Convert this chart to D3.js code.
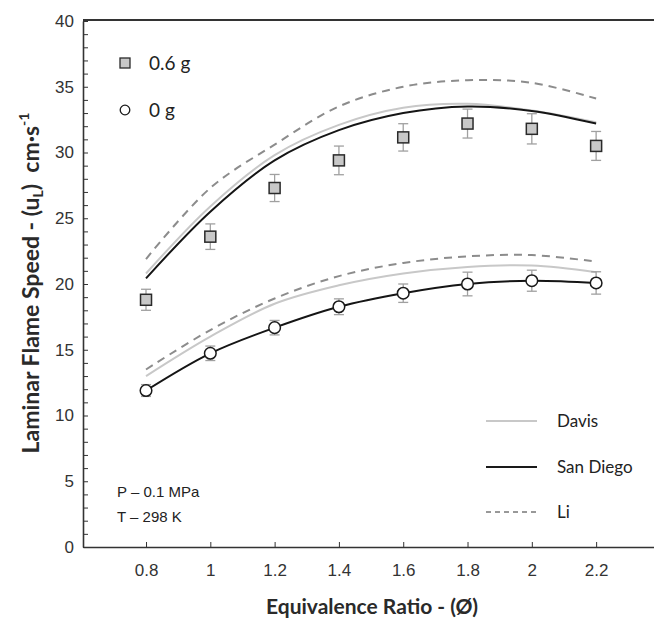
<!DOCTYPE html>
<html>
<head>
<meta charset="utf-8">
<script src="https://cdn.jsdelivr.net/npm/d3@7"></script>
<style>
  body { margin: 0; background: #fff; }
</style>
</head>
<body>
<script>
// equivalence ratio values
var phi = [0.8, 1.0, 1.2, 1.4, 1.6, 1.8, 2.0, 2.2];

// measured flame speed (cm/s) and error
var g06 = [18.8, 23.6, 27.3, 29.4, 31.15, 32.2, 31.8, 30.5];
var g06err = [0.8, 0.97, 1.03, 1.09, 1.04, 1.1, 1.15, 1.1];
var g0 = [11.9, 14.73, 16.68, 18.27, 19.3, 20.0, 20.25, 20.08];
var g0err = [0.45, 0.55, 0.55, 0.6, 0.7, 0.9, 0.8, 0.85];

// model curves, upper (0.6 g) and lower (0 g)
var davisHi = [20.8, 25.9, 29.8, 32.1, 33.4, 33.7, 33.2, 32.3];
var sdHi = [20.43, 25.5, 29.4, 31.7, 33.0, 33.5, 33.16, 32.2];
var liHi = [21.9, 27.3, 30.6, 33.5, 35.0, 35.5, 35.3, 34.1];
var davisLo = [13.0, 16.0, 18.5, 19.9, 20.8, 21.3, 21.4, 20.9];
var sdLo = [11.9, 14.73, 16.68, 18.27, 19.3, 20.0, 20.25, 20.08];
var liLo = [13.5, 16.5, 18.9, 20.6, 21.6, 22.1, 22.2, 21.7];

var xTicks = [0.8, 1.0, 1.2, 1.4, 1.6, 1.8, 2.0, 2.2];
var seriesNames = ['Davis', 'San Diego', 'Li'];
var massNames = ['0.6 g', '0 g'];

var W = 654, H = 630;
var svg = d3.select('body').append('svg')
    .attr('width', W)
    .attr('height', H);

var x = d3.scaleLinear().domain([0.604, 2.38]).range([83, 654]);
var y = d3.scaleLinear().domain([0, 40]).range([547, 21]);

var tickFont = '"Liberation Sans", Arial, sans-serif';
var labelFont = 'Lato, "Open Sans", sans-serif';

// y axis, ticks inward, label every 5
var yAxis = d3.axisLeft(y)
    .tickValues(d3.range(0, 41))
    .tickSize(-5)
    .tickSizeOuter(0)
    .tickPadding(9)
    .tickFormat(function(d){ return d % 5 === 0 ? d : ''; });
var gy = svg.append('g')
    .attr('transform', 'translate(83,0)')
    .call(yAxis);
gy.select('.domain').attr('stroke', '#333').attr('stroke-width', 1.6);
gy.selectAll('.tick line').attr('stroke', '#333').attr('stroke-width', 1);
gy.selectAll('.tick text')
    .style('font-family', tickFont)
    .style('font-size', '17px')
    .attr('fill', '#333');

// x axis
var xAxis = d3.axisBottom(x)
    .tickValues(xTicks)
    .tickSize(-5)
    .tickSizeOuter(0)
    .tickPadding(17)
    .tickFormat(function(d){ return String(+d.toFixed(1)); });
var gx = svg.append('g')
    .attr('transform', 'translate(0,547)')
    .call(xAxis);
gx.select('.domain').attr('stroke', '#333').attr('stroke-width', 1.6);
gx.selectAll('.tick line').attr('stroke', '#333');
gx.selectAll('.tick text')
    .style('font-family', tickFont)
    .style('font-size', '17px')
    .attr('fill', '#333');

// top border
svg.append('line')
    .attr('x1', 83).attr('x2', W)
    .attr('y1', 20).attr('y2', 20)
    .attr('stroke', '#333')
    .attr('stroke-width', 2);

var line = function(vals){
    return d3.line()
        .x(function(d, i){ return x(phi[i]); })
        .y(function(d){ return y(d); })
        .curve(d3.curveCatmullRom)(vals);
};

var curves = [
    {v: davisHi, color: '#c8c8c8', dash: null},
    {v: davisLo, color: '#c8c8c8', dash: null},
    {v: liHi, color: '#8c8c8c', dash: '8,6'},
    {v: liLo, color: '#8c8c8c', dash: '8,6'},
    {v: sdHi, color: '#151515', dash: null},
    {v: sdLo, color: '#151515', dash: null}
];
svg.selectAll('.curve')
    .data(curves)
    .enter()
    .append('path')
    .attr('class', 'curve')
    .attr('d', function(d){ return line(d.v); })
    .attr('fill', 'none')
    .attr('stroke', function(d){ return d.color; })
    .attr('stroke-width', 2)
    .attr('stroke-dasharray', function(d){ return d.dash; });

// error bars
var errBars = function(vals, errs){
    var g = svg.append('g');
    phi.forEach(function(p, i){
        var cx = x(p), lo = y(vals[i] - errs[i]), hi = y(vals[i] + errs[i]);
        g.append('line').attr('x1', cx).attr('x2', cx).attr('y1', lo).attr('y2', hi);
        g.append('line').attr('x1', cx - 5).attr('x2', cx + 5).attr('y1', lo).attr('y2', lo);
        g.append('line').attr('x1', cx - 5).attr('x2', cx + 5).attr('y1', hi).attr('y2', hi);
    });
    g.selectAll('line').attr('stroke', '#a0a0a0').attr('stroke-width', 1.3);
};
errBars(g06, g06err);
errBars(g0, g0err);

svg.selectAll('.sq')
    .data(g06)
    .enter()
    .append('rect')
    .attr('class', 'sq')
    .attr('x', function(d, i){ return x(phi[i]) - 5.5; })
    .attr('y', function(d){ return y(d) - 5.5; })
    .attr('width', 11)
    .attr('height', 11)
    .attr('fill', '#c8c8c8')
    .attr('stroke', '#2a2a2a')
    .attr('stroke-width', 1.5);

svg.selectAll('.circ')
    .data(g0)
    .enter()
    .append('circle')
    .attr('class', 'circ')
    .attr('cx', function(d, i){ return x(phi[i]); })
    .attr('cy', function(d){ return y(d); })
    .attr('r', 5.8)
    .attr('fill', '#fff')
    .attr('stroke', '#1a1a1a')
    .attr('stroke-width', 1.5);

// top-left legend
svg.append('rect')
    .attr('x', 120).attr('y', 58).attr('width', 10).attr('height', 10)
    .attr('fill', '#c8c8c8').attr('stroke', '#2a2a2a').attr('stroke-width', 1.3);
svg.append('circle')
    .attr('cx', 125).attr('cy', 110).attr('r', 4.8)
    .attr('fill', '#fff').attr('stroke', '#1a1a1a').attr('stroke-width', 1.3);
svg.selectAll('.mlab')
    .data(massNames)
    .enter()
    .append('text')
    .attr('class', 'mlab')
    .attr('x', 149)
    .attr('y', function(d, i){ return 70 + i * 47; })
    .text(function(d){ return d; })
    .style('font-family', labelFont)
    .style('font-size', '19px')
    .attr('fill', '#222');

// bottom-right legend
var legY = [421, 467, 512];
var legStyle = [
    {color: '#c8c8c8', w: 2, dash: null},
    {color: '#1a1a1a', w: 2, dash: null},
    {color: '#333', w: 1, dash: '5,4'}
];
seriesNames.forEach(function(name, i){
    svg.append('line')
        .attr('x1', 486).attr('x2', 537)
        .attr('y1', legY[i]).attr('y2', legY[i])
        .attr('stroke', legStyle[i].color)
        .attr('stroke-width', legStyle[i].w)
        .attr('stroke-dasharray', legStyle[i].dash);
    svg.append('text')
        .attr('x', 557)
        .attr('y', legY[i] + 6)
        .text(name)
        .style('font-family', labelFont)
        .style('font-size', '17px')
        .attr('fill', '#222');
});

// conditions
svg.append('text').attr('x', 117).attr('y', 497).text('P \u2013 0.1 MPa')
    .style('font-family', tickFont).style('font-size', '15px').attr('fill', '#222');
svg.append('text').attr('x', 117).attr('y', 522).text('T \u2013 298 K')
    .style('font-family', tickFont).style('font-size', '15px').attr('fill', '#222');

// axis titles
svg.append('text')
    .attr('x', 372).attr('y', 614)
    .attr('text-anchor', 'middle')
    .text('Equivalence Ratio - (\u00d8)')
    .style('font-family', labelFont)
    .style('font-size', '21px')
    .style('font-weight', 'bold')
    .attr('fill', '#2a2a2a');

var yt = svg.append('text')
    .attr('transform', 'translate(39,283) rotate(-90)')
    .attr('text-anchor', 'middle')
    .style('font-family', labelFont)
    .style('font-size', '23px')
    .style('font-weight', 'bold')
    .attr('fill', '#2a2a2a');
yt.append('tspan').text('Laminar Flame Speed - (u');
yt.append('tspan').text('L').style('font-size', '14px').attr('dy', 4);
yt.append('tspan').text(')\u00a0\u00a0cm\u00b7s').attr('dy', -4);
yt.append('tspan').text('-1').style('font-size', '14px').attr('dy', -10);
</script>
</body>
</html>
